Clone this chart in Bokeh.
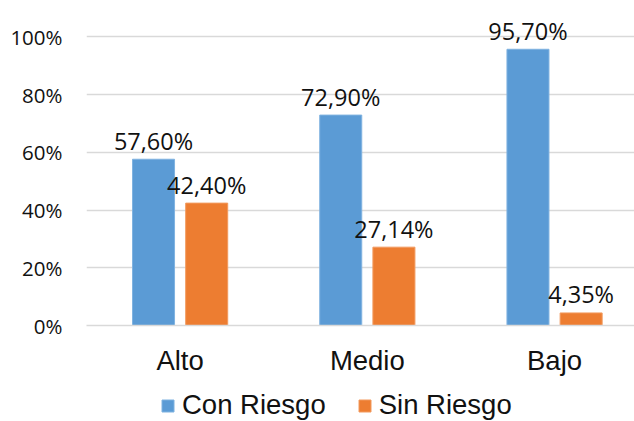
from bokeh.plotting import figure
from bokeh.layouts import column
from bokeh.models import (ColumnDataSource, FixedTicker, NumeralTickFormatter,
                          Legend, LegendItem, Range1d)
from bokeh.core.properties import value
from bokeh.transform import dodge
from bokeh.embed import file_html
from bokeh.resources import INLINE

categories = ["Alto", "Medio", "Bajo"]
con_riesgo = [0.576, 0.729, 0.957]
sin_riesgo = [0.424, 0.2714, 0.0435]
series_names = ["Con Riesgo", "Sin Riesgo"]
y_ticks = [0.0, 0.2, 0.4, 0.6, 0.8, 1.0]

BLUE = "#5B9BD5"
ORANGE = "#ED7D31"
BLUE_EDGE = "#7fb2e0"
ORANGE_EDGE = "#f29a5e"


def fmt(v):
    return f"{v * 100:.2f}".replace(".", ",") + "%"


x_pos = [i + 0.5 for i in range(len(categories))]
src = ColumnDataSource(dict(
    x=x_pos,
    con=con_riesgo,
    sin=sin_riesgo,
    con_lbl=[fmt(v) for v in con_riesgo],
    sin_lbl=[fmt(v) for v in sin_riesgo],
))

p = figure(width=634, height=378, output_backend="svg", toolbar_location=None,
           x_range=Range1d(0, 2.927), y_range=Range1d(0, 1.126),
           min_border_left=86, min_border_right=0, min_border_top=0,
           min_border_bottom=52)
p.outline_line_color = None
p.background_fill_color = "white"
p.border_fill_color = "white"

off = 0.142
bw = 0.2244

p.vbar(x=dodge('x', -off, range=p.x_range), top='con', width=bw, source=src,
       fill_color=BLUE, line_color=BLUE_EDGE, line_width=1)
p.vbar(x=dodge('x', off, range=p.x_range), top='sin', width=bw, source=src,
       fill_color=ORANGE, line_color=ORANGE_EDGE, line_width=1)

for xo, col, lbl in [(-off, 'con', 'con_lbl'), (off, 'sin', 'sin_lbl')]:
    p.text(x=dodge('x', xo, range=p.x_range), y=col, text=lbl, source=src,
           y_offset=-18.5, text_align="center", text_baseline="alphabetic",
           text_font=value("Open Sans"), text_font_size="23.5px",
           text_color="#111111")

# x axis
p.xaxis.ticker = FixedTicker(ticks=x_pos)
p.xaxis.major_label_overrides = {x: c for x, c in zip(x_pos, categories)}
p.xaxis.axis_line_color = "#d9d9d9"
p.xaxis.axis_line_width = 1.3
p.xaxis.major_tick_line_color = None
p.xaxis.minor_tick_line_color = None
p.xaxis.major_label_text_font = "Liberation Sans"
p.xaxis.major_label_text_font_size = "27.5px"
p.xaxis.major_label_text_color = "#111111"
p.xaxis.major_label_standoff = 13

# y axis
p.yaxis.ticker = FixedTicker(ticks=y_ticks)
p.yaxis.formatter = NumeralTickFormatter(format="0%")
p.yaxis.axis_line_color = None
p.yaxis.major_tick_line_color = None
p.yaxis.minor_tick_line_color = None
p.yaxis.major_label_text_font = "Open Sans"
p.yaxis.major_label_text_font_size = "20.5px"
p.yaxis.major_label_text_color = "#111111"
p.yaxis.major_label_standoff = 18

p.xgrid.grid_line_color = None
p.ygrid.ticker = FixedTicker(ticks=y_ticks)
p.ygrid.grid_line_color = "#d9d9d9"
p.ygrid.grid_line_width = 1.3

# legend strip (its frame is aligned with the chart frame by the column layout)
lg = figure(width=634, height=43, output_backend="svg", toolbar_location=None,
            x_range=p.x_range, y_range=Range1d(2, 3),
            x_axis_type=None, y_axis_type=None,
            min_border_left=86, min_border_right=0, min_border_top=0,
            min_border_bottom=0)
lg.outline_line_color = None
lg.grid.grid_line_color = None
# legend proxies share the series data; the view range keeps them off-screen
g1 = lg.vbar(x='x', top='con', width=bw, source=src,
             fill_color=BLUE, line_color=BLUE_EDGE)
g2 = lg.vbar(x='x', top='sin', width=bw, source=src,
             fill_color=ORANGE, line_color=ORANGE_EDGE)

legend = Legend(items=[LegendItem(label=series_names[0], renderers=[g1]),
                       LegendItem(label=series_names[1], renderers=[g2])],
                orientation="horizontal", location=(74, 0),
                glyph_width=15, glyph_height=15,
                label_text_font="Liberation Sans", label_text_font_size="27.5px",
                label_text_color="#111111",
                label_standoff=7, spacing=31, padding=0, margin=0,
                border_line_color=None, background_fill_alpha=0)
lg.add_layout(legend, "center")

layout = column(p, lg, spacing=0)
open("out.html", "w").write(file_html(layout, INLINE))
